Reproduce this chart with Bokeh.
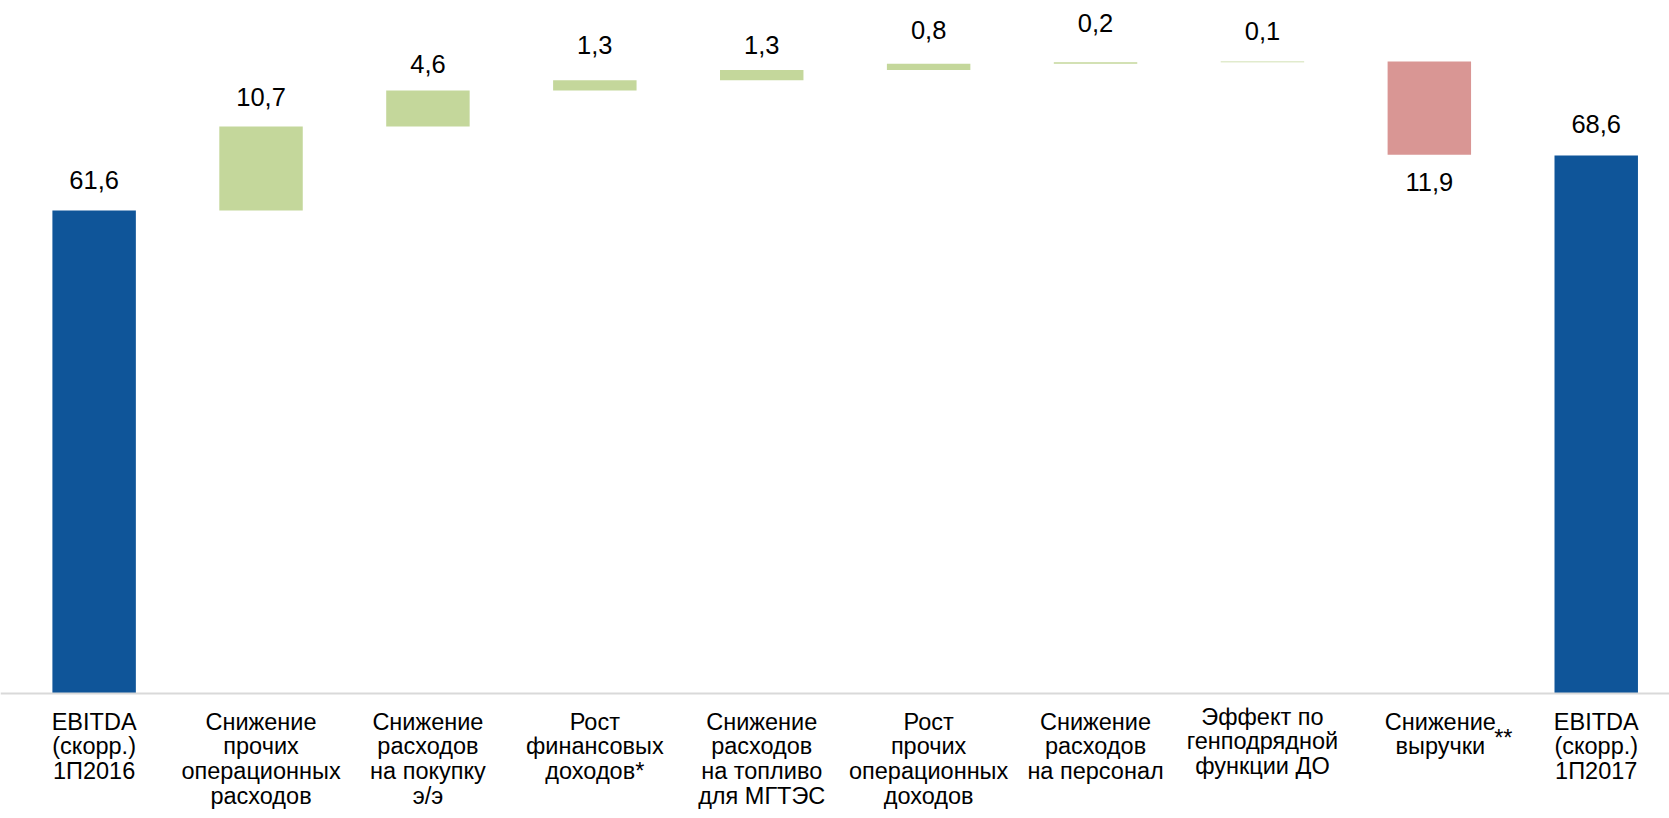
from bokeh.plotting import figure
from bokeh.models import ColumnDataSource, Range1d, FactorRange, Span
from bokeh.core.properties import value
from bokeh.transform import dodge
from bokeh.embed import file_html
from bokeh.resources import INLINE

# ---------------- data ----------------
categories = [
    "EBITDA\n(скорр.)\n1П2016",
    "Снижение\nпрочих\nоперационных\nрасходов",
    "Снижение\nрасходов\nна покупку\nэ/э",
    "Рост\nфинансовых\nдоходов*",
    "Снижение\nрасходов\nна топливо\nдля МГТЭС",
    "Рост\nпрочих\nоперационных\nдоходов",
    "Снижение\nрасходов\nна персонал",
    "Эффект по\nгенподрядной\nфункции ДО",
    "Снижение\nвыручки",
    "EBITDA\n(скорр.)\n1П2017",
]
values = [61.6, 10.7, 4.6, 1.3, 1.3, 0.8, 0.2, 0.1, -11.9, 68.6]
kinds = ["total", "delta", "delta", "delta", "delta", "delta", "delta", "delta", "delta", "total"]
value_labels = ["61,6", "10,7", "4,6", "1,3", "1,3", "0,8", "0,2", "0,1", "11,9", "68,6"]
footnote_marks = ["", "", "", "", "", "", "", "", "**", ""]

# ---------------- style ----------------
W, H = 1669, 818
BASE_PX = 693          # pixel row of the zero line
PPU = 7.842            # pixels per unit
Y0 = -(H - BASE_PX) / PPU
Y1 = BASE_PX / PPU
X_SHIFT = 0.061        # horizontal shift of all columns (category units)

BLUE = "#0F5599"
GREEN = "#C4D79B"
RED = "#D99694"
FONT = "Liberation Sans"
TEXT_SHIFT = 11        # empirical correction of text anchor (px)

label_gap_px = [19, 19, 15, 24, 14, 23, 28, 19, 38, 21]   # gap between bar edge and value-label baseline
cat_dy_px = [0, 0, 0, 0, 0, 0, 0, -5, 0, 0]
cat_dx_px = [0, 0, 0, 0, 0, 0, 0, 0, 11, 0]

# ---------------- waterfall geometry ----------------
bottoms, tops, colors = [], [], []
running = 0.0
for v, k in zip(values, kinds):
    if k == "total":
        b, t = 0.0, v
        running = v
        c = BLUE
    else:
        if v >= 0:
            b, t = running, running + v
            c = GREEN
        else:
            b, t = running + v, running
            c = RED
        running += v
    bottoms.append(b)
    tops.append(t)
    colors.append(c)

lab_y = []
for v, b, t, g in zip(values, bottoms, tops, label_gap_px):
    if v >= 0:
        lab_y.append(t + (g + TEXT_SHIFT) / PPU)
    else:
        lab_y.append(b - (g - TEXT_SHIFT) / PPU)

cat_top_px = 708
cat_y = [Y0 + (H - (cat_top_px + d)) / PPU for d in cat_dy_px]

src = ColumnDataSource(dict(x=categories, top=tops, bottom=bottoms, color=colors,
                            lab=value_labels, lab_y=lab_y, cat_y=cat_y, dx=cat_dx_px))

xr = FactorRange(*categories, range_padding=0)
p = figure(x_range=xr, y_range=Range1d(Y0, Y1),
           width=W, height=H, output_backend="svg", toolbar_location=None,
           min_border=0, min_border_left=0, min_border_right=0, min_border_top=0, min_border_bottom=0)
p.axis.visible = False
p.grid.visible = False
p.outline_line_color = None
p.background_fill_color = "white"
p.border_fill_color = "white"

xd = dodge("x", X_SHIFT, range=xr)

p.vbar(x=xd, top="top", bottom="bottom", width=0.5, color="color", line_color=None, source=src)

p.add_layout(Span(location=0, dimension="width", line_color="#D9D9D9", line_width=2))

p.text(x=xd, y="lab_y", text="lab", source=src, text_align="center", text_baseline="alphabetic",
       text_font=value(FONT), text_font_size="25.5px", text_color="#000000")

p.text(x=xd, y="cat_y", text="x", x_offset="dx", source=src, text_align="center", text_baseline="top",
       text_font=value(FONT), text_font_size="23.5px", text_color="#000000", text_line_height=0.95)

# superscript footnote marks
fm_src = ColumnDataSource(dict(x=[c for c, m in zip(categories, footnote_marks) if m],
                               t=[m for m in footnote_marks if m]))
star_y = Y0 + (H - 737) / PPU
p.text(x=dodge("x", X_SHIFT, range=xr), y=star_y, text="t", source=fm_src, x_offset=74,
       text_align="center", text_baseline="alphabetic", text_font=value(FONT),
       text_font_size="23.5px", text_color="#000000")

open("out.html", "w").write(file_html(p, INLINE))
